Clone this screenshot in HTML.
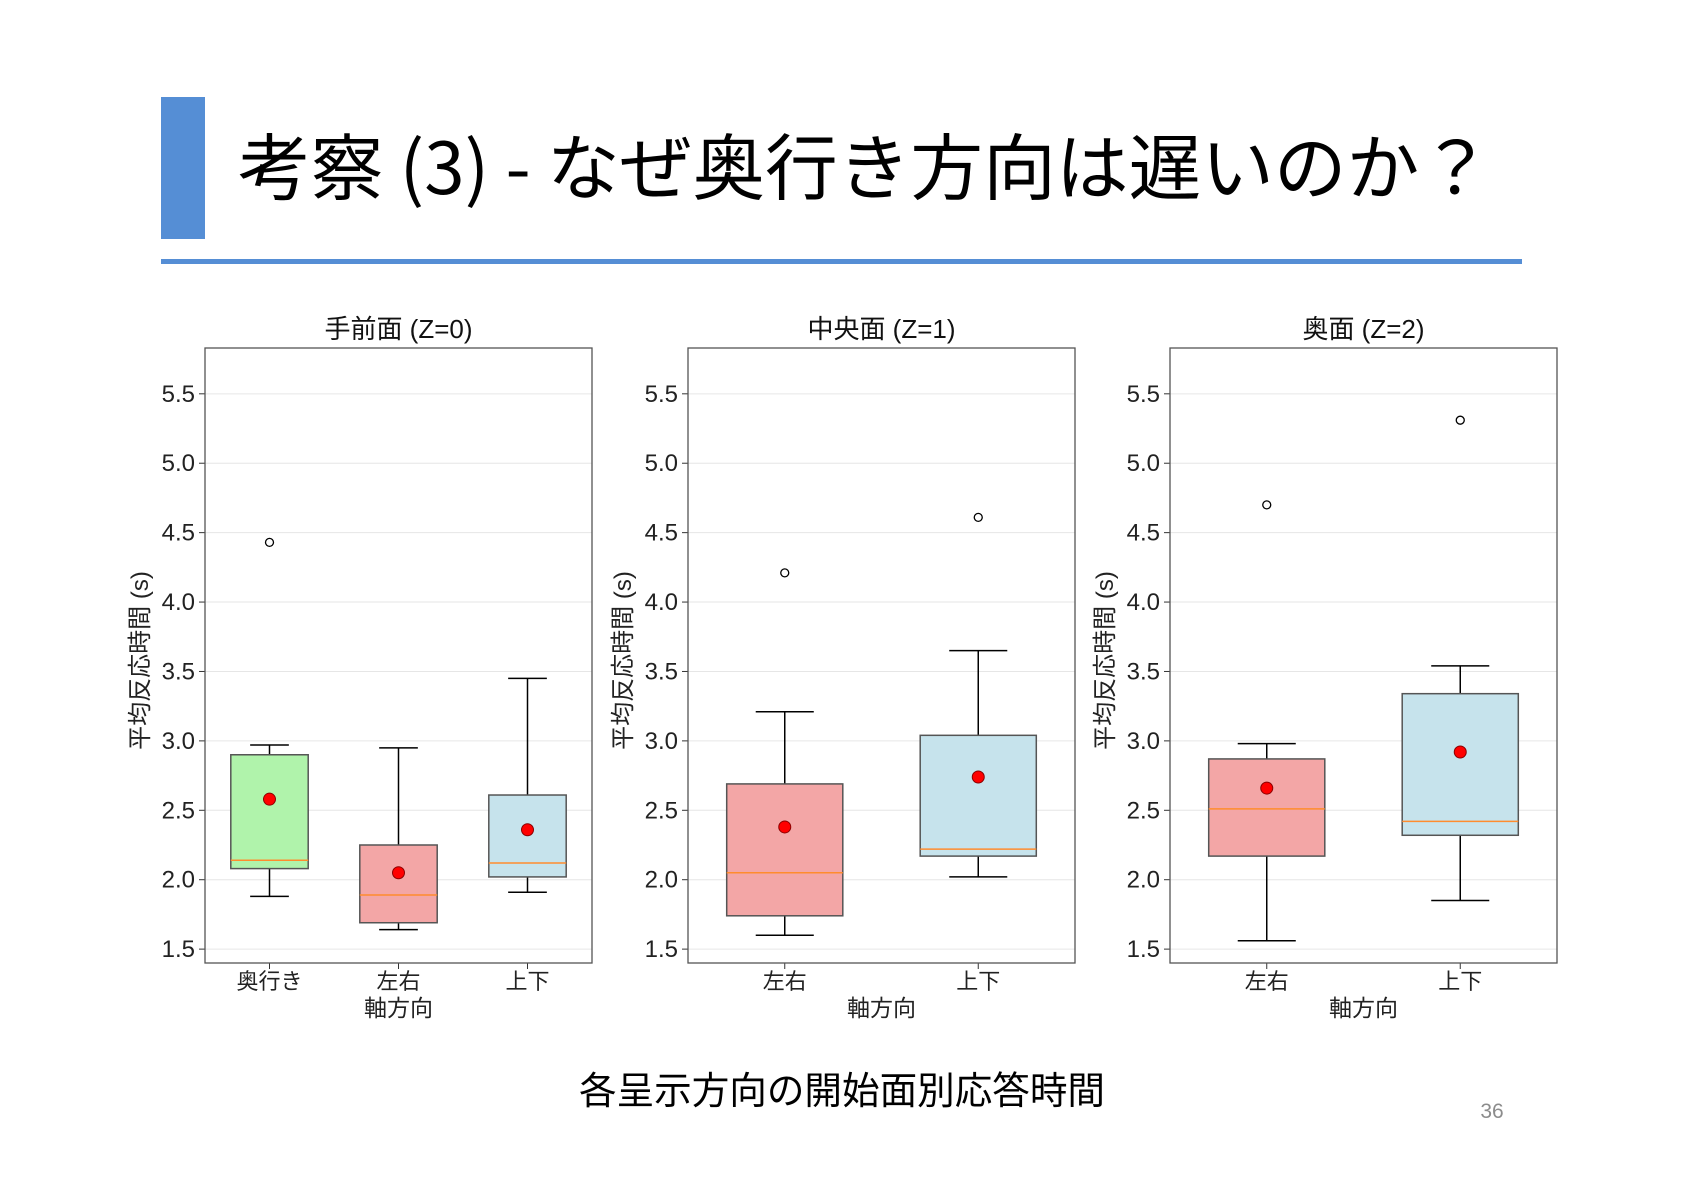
<!DOCTYPE html>
<html><head><meta charset="utf-8">
<style>
html,body{margin:0;padding:0;background:#fff;}
svg{display:block;font-family:"Liberation Sans","Noto Sans CJK JP",sans-serif;}
</style></head>
<body>
<svg id="root" width="1684" height="1190" viewBox="0 0 1684 1190" xmlns="http://www.w3.org/2000/svg">
<rect x="161" y="97" width="44" height="142" fill="#558ed5"/>
<text x="238" y="194" font-size="72" textLength="1254" lengthAdjust="spacingAndGlyphs" fill="#000" font-family="'Noto Sans CJK JP',sans-serif">考察 (3) - なぜ奥行き方向は遅いのか？</text>
<rect x="161" y="259" width="1361" height="5" fill="#558ed5"/>
<g id="charts"></g>
<text x="842" y="1104" font-size="38" textLength="526" lengthAdjust="spacingAndGlyphs" text-anchor="middle" fill="#000" font-family="'Noto Sans CJK JP',sans-serif">各呈示方向の開始面別応答時間</text>
<text x="1492" y="1118" font-size="21" text-anchor="middle" fill="#8c8c8c">36</text>
</svg>
<script>
const panelTitles = ["手前面 (Z=0)", "中央面 (Z=1)", "奥面 (Z=2)"];
const panelCats = [["奥行き","左右","上下"], ["左右","上下"], ["左右","上下"]];
const panelColors = [["#b0f3ab","#f3a6a6","#c6e3ec"], ["#f3a6a6","#c6e3ec"], ["#f3a6a6","#c6e3ec"]];
const whiskLow = [[1.88,1.64,1.91],[1.60,2.02],[1.56,1.85]];
const q1 = [[2.08,1.69,2.02],[1.74,2.17],[2.17,2.32]];
const medians = [[2.14,1.89,2.12],[2.05,2.22],[2.51,2.42]];
const q3 = [[2.90,2.25,2.61],[2.69,3.04],[2.87,3.34]];
const whiskHigh = [[2.97,2.95,3.45],[3.21,3.65],[2.98,3.54]];
const means = [[2.58,2.05,2.36],[2.38,2.74],[2.66,2.92]];
const outliers = [[[4.43],[],[]],[[4.21],[4.61]],[[4.70],[5.31]]];
const yTicks = [1.5,2.0,2.5,3.0,3.5,4.0,4.5,5.0,5.5];

const NS = "http://www.w3.org/2000/svg";
const g = document.getElementById("charts");
const panelLeft = [205, 688, 1170];
const PW = 387, PT = 348, PB = 963;
const yMin = 1.40, yMax = 5.83;
function yScale(v){ return PB - (v - yMin) / (yMax - yMin) * (PB - PT); }
function mk(tag, attrs, parent){
  const e = document.createElementNS(NS, tag);
  for (const k in attrs) e.setAttribute(k, attrs[k]);
  (parent || g).appendChild(e);
  return e;
}
panelTitles.forEach((title, p) => {
  const L = panelLeft[p];
  const n = panelCats[p].length;
  const step = PW / n;
  const xScale = i => L + step * (i + 0.5);
  const pg = mk("g", {});
  
  
  yTicks.forEach(t => {
    const y = yScale(t);
    const gl = mk("line", {x1:L, x2:L+PW, y1:y, y2:y, stroke:"#e6e6e6", "stroke-width":1}, pg);
    
    
    mk("line", {x1:L-6, x2:L, y1:y, y2:y, stroke:"#333", "stroke-width":1}, pg);
    const tl = mk("text", {x:L-10, y:y+8, "font-size":24, "text-anchor":"end", fill:"#222"}, pg);
    tl.textContent = t.toFixed(1);
    
    
  });
  const bw = step * 0.6;
  panelCats[p].forEach((c, i) => {
    const x = xScale(i);
    const bg = mk("g", {}, pg);
    
    
    mk("line", {x1:x, x2:x, y1:yScale(whiskLow[p][i]), y2:yScale(q1[p][i]), stroke:"#000", "stroke-width":1.5}, bg);
    mk("line", {x1:x, x2:x, y1:yScale(q3[p][i]), y2:yScale(whiskHigh[p][i]), stroke:"#000", "stroke-width":1.5}, bg);
    mk("line", {x1:x-bw/4, x2:x+bw/4, y1:yScale(whiskLow[p][i]), y2:yScale(whiskLow[p][i]), stroke:"#000", "stroke-width":1.5}, bg);
    mk("line", {x1:x-bw/4, x2:x+bw/4, y1:yScale(whiskHigh[p][i]), y2:yScale(whiskHigh[p][i]), stroke:"#000", "stroke-width":1.5}, bg);
    mk("rect", {x:x-bw/2, y:yScale(q3[p][i]), width:bw, height:yScale(q1[p][i])-yScale(q3[p][i]), fill:panelColors[p][i], stroke:"#555", "stroke-width":1.5}, bg);
    mk("line", {x1:x-bw/2, x2:x+bw/2, y1:yScale(medians[p][i]), y2:yScale(medians[p][i]), stroke:"#ff8c2e", "stroke-width":1.5}, bg);
    outliers[p][i].forEach(o => {
      const oc = mk("circle", {cx:x, cy:yScale(o), r:4, fill:"none", stroke:"#000", "stroke-width":1.3}, bg);
      
      
    });
    const mc = mk("circle", {cx:x, cy:yScale(means[p][i]), r:6, fill:"#ff0000", stroke:"#8b0000", "stroke-width":1}, bg);
    
    
    mk("line", {x1:x, x2:x, y1:PB, y2:PB+6, stroke:"#333", "stroke-width":1}, pg);
    const xl = mk("text", {x:x, y:PB+26, "font-size":22, "text-anchor":"middle", fill:"#222"}, pg);
    xl.textContent = c;
    
    
  });
  const fr = mk("rect", {x:L, y:PT, width:PW, height:PB-PT, fill:"none", stroke:"#555", "stroke-width":1.3}, pg);
  
  
  const tt = mk("text", {x:L+PW/2, y:PT-10, "font-size":26, "text-anchor":"middle", fill:"#111"}, pg);
  tt.textContent = title;
  
  
  const xt = mk("text", {x:L+PW/2, y:PB+53, "font-size":23, "text-anchor":"middle", fill:"#222"}, pg);
  xt.textContent = "軸方向";
  
  
  const cy = (PT+PB)/2 + 5;
  const yt = mk("text", {x:L-57, y:cy, "font-size":24, "text-anchor":"middle", fill:"#222", transform:"rotate(-90 " + (L-57) + " " + cy + ")"}, pg);
  yt.textContent = "平均反応時間 (s)";
  
  
});
</script>
</body></html>
